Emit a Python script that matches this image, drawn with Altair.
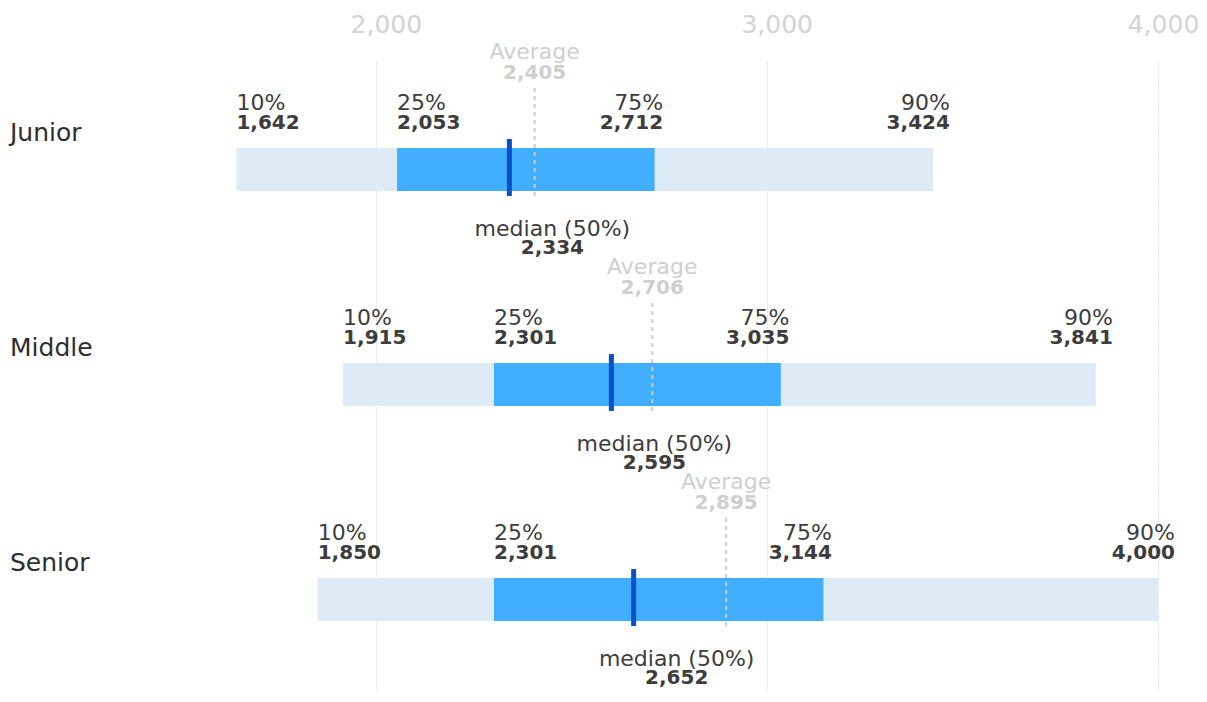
import altair as alt
import pandas as pd

# ---- data ----
levels = ["Junior", "Middle", "Senior"]
p10 = [1642, 1915, 1850]
p25 = [2053, 2301, 2301]
p50 = [2334, 2595, 2652]
p75 = [2712, 3035, 3144]
p90 = [3424, 3841, 4000]
average = [2405, 2706, 2895]
pct_names = ["10%", "25%", "75%", "90%"]
median_name = "median (50%)"
average_name = "Average"
axis_values = [2000, 3000, 4000]

df = pd.DataFrame({
    "level": levels, "p10": p10, "p25": p25, "p50": p50,
    "p75": p75, "p90": p90, "avg": average,
})

FONT = "DejaVu Sans"
TXT = "#3d3d3d"
LIGHT = "#cfcfcf"

xs = alt.Scale(domain=[1600, 4000], nice=False, zero=False)
ax = alt.Axis(orient="top", values=axis_values, title=None,
              labelExpr="format(datum.value, ',')",
              labelFont=FONT, labelFontSize=25, labelColor="#d3d3d3",
              labelPadding=30, labelBaseline="alphabetic",
              labelOffset={"condition": {"test": "datum.value >= 4000", "value": 5},
                           "value": 9.5},
              labelFlush=False, labelOverlap=False,
              ticks=False, tickSize=0, domain=False,
              grid=True, gridColor="#c8c8c8", gridDash=[1, 2], gridWidth=1)
ys = alt.Scale(domain=[0.5, 3.43], reverse=True, nice=False, zero=False)


def X(f):
    return alt.X(f"{f}:Q", scale=xs, axis=ax)


Y = alt.Y("row:Q", scale=ys, axis=None)

base = alt.Chart()

outer = base.mark_rule(strokeWidth=43, strokeCap="butt", color="#dcebf6").encode(
    x=X("p10"), x2="p90:Q", y=Y)
inner = base.mark_rule(strokeWidth=43, strokeCap="butt", color="#42aeff").encode(
    x=X("p25"), x2="p75:Q", y=Y)
avg_line = base.mark_rule(strokeWidth=2, strokeDash=[4, 4], color="#cccccc",
                          yOffset=-81.5, y2Offset=28.5).encode(
    x=X("avg"), y=Y, y2="row:Q")
med_tick = base.mark_rule(strokeWidth=5, strokeCap="butt", color="#0752c8",
                          xOffset=2.5, yOffset=-30.5, y2Offset=26.5).encode(
    x=X("p50"), y=Y, y2="row:Q")

layers = [outer, inner, avg_line, med_tick]

pct_fields = ["p10", "p25", "p75", "p90"]
pct_align = ["left", "left", "right", "right"]
pct_dx = [0, 0, 8.5, 17]
for f, name, al, dx in zip(pct_fields, pct_names, pct_align, pct_dx):
    layers.append(base.mark_text(align=al, baseline="alphabetic", dx=dx, dy=-59.5,
                                 font=FONT, fontSize=22, color=TXT).encode(
        x=X(f), y=Y, text=alt.value(name)))
    layers.append(base.mark_text(align=al, baseline="alphabetic", dx=dx, dy=-40.5,
                                 font=FONT, fontSize=20, fontWeight="bold", color=TXT).encode(
        x=X(f), y=Y, text=alt.Text(f"{f}:Q", format=",")))

# median labels
layers.append(base.mark_text(align="center", baseline="alphabetic", dx=45.5, dy=66.5,
                             font=FONT, fontSize=22, color=TXT).encode(
    x=X("p50"), y=Y, text=alt.value(median_name)))
layers.append(base.mark_text(align="center", baseline="alphabetic", dx=45.5, dy=84.5,
                             font=FONT, fontSize=20, fontWeight="bold", color=TXT).encode(
    x=X("p50"), y=Y, text=alt.Text("p50:Q", format=",")))

# average labels
layers.append(base.mark_text(align="center", baseline="alphabetic", dy=-110.5,
                             font=FONT, fontSize=22, color=LIGHT).encode(
    x=X("avg"), y=Y, text=alt.value(average_name)))
layers.append(base.mark_text(align="center", baseline="alphabetic", dy=-90.5,
                             font=FONT, fontSize=20, fontWeight="bold", color=LIGHT).encode(
    x=X("avg"), y=Y, text=alt.Text("avg:Q", format=",")))

# row labels
layers.append(base.mark_text(align="left", baseline="alphabetic", dy=-28.5,
                             font=FONT, fontSize=25, color="#2e2e2e").encode(
    x=alt.value(-210), y=Y, text="level:N"))

chart = alt.layer(*layers, data=df).transform_window(
    row="row_number()"
).properties(
    width=938, height=630,
    padding={"left": 212, "top": 54, "right": 41, "bottom": 0},
    autosize=alt.AutoSizeParams(type="none"),
    background="white",
).configure_view(stroke=None)

chart.save("out.html", embed_options={"renderer": "svg", "actions": False})
